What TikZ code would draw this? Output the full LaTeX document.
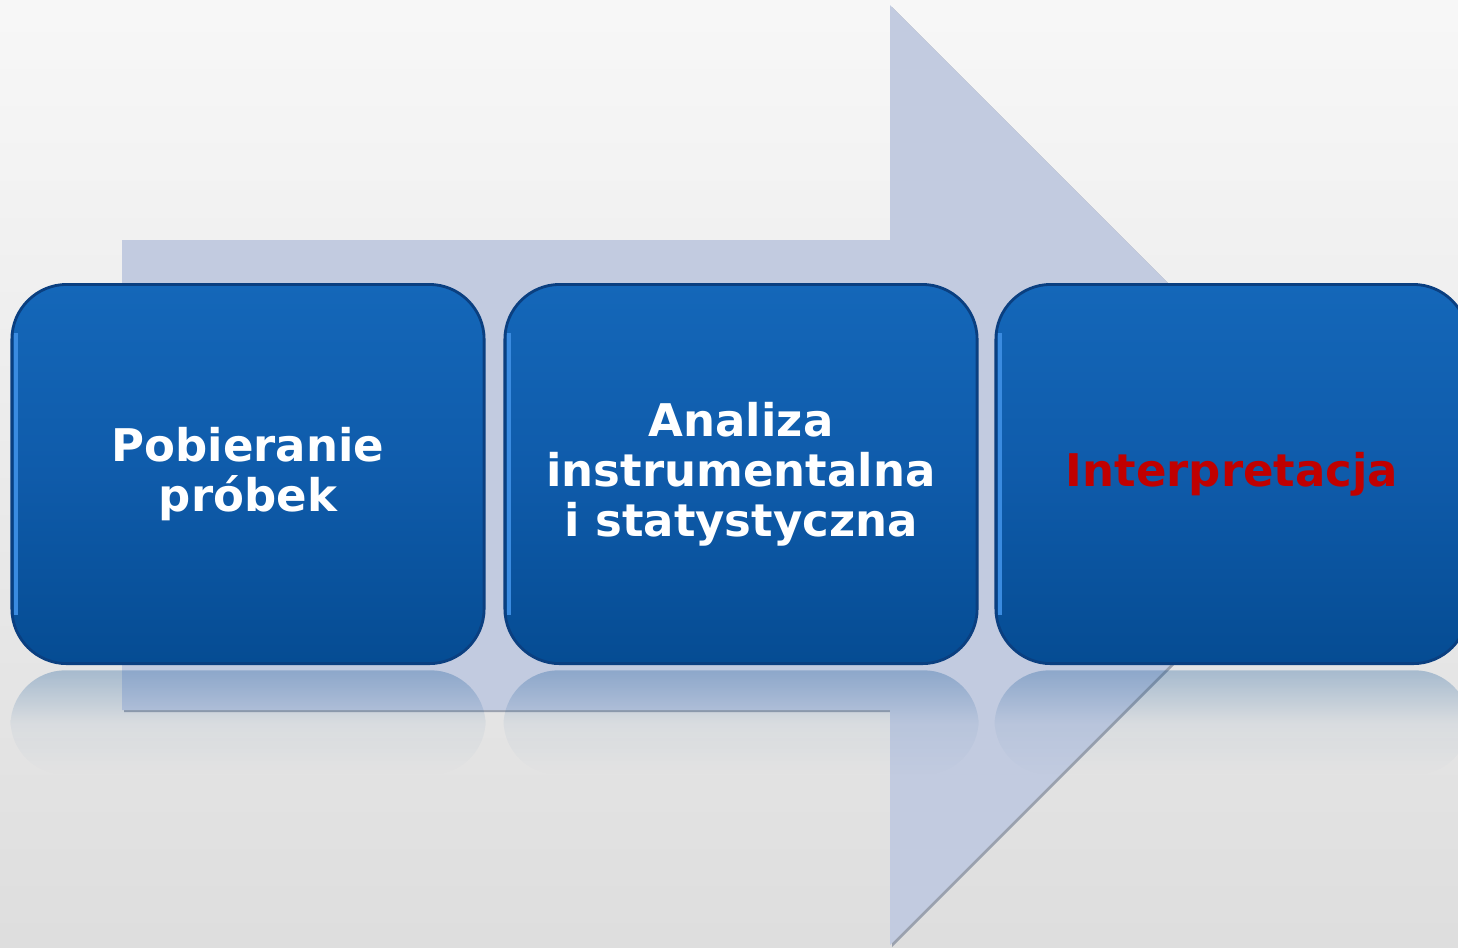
\documentclass[tikz,border=0pt]{standalone}
\usepackage{fontspec}
\setmainfont{DejaVu Sans}
\usetikzlibrary{fadings}

\definecolor{arrowfill}{HTML}{C2CBE0}
\definecolor{arrowshade}{HTML}{9AA1AE}
\definecolor{boxtop}{HTML}{1467B9}
\definecolor{boxmid}{HTML}{0F5BAA}
\definecolor{boxbot}{HTML}{054C93}
\definecolor{boxedge}{HTML}{0A3F80}
\definecolor{boxhi}{HTML}{3A8BE0}
\definecolor{redtext}{HTML}{C00000}

\tikzfading[name=fade down, top color=transparent!72, bottom color=transparent!100,
  middle color=transparent!95]

\tikzset{
  stepbox/.style={draw=boxedge, line width=0.8pt, rounded corners=5.5mm,
    top color=boxtop, bottom color=boxbot, middle color=boxmid,
    minimum width=4.72cm, minimum height=3.79cm, align=center,
    text=white, font=\bfseries\fontsize{12.8}{14.2}\selectfont},
  reflect/.style={fill=boxbot, rounded corners=5.5mm, path fading=fade down}
}

\begin{document}
\begin{tikzpicture}[x=0.01cm, y=-0.01cm]
  \useasboundingbox (0,0) rectangle (1458,947);
  \shade[top color=white!97!black, bottom color=black!13] (0,0) rectangle (1458,947);

  % big arrow behind the steps
  \fill[arrowshade] (124,242) -- (892,242) -- (892,7) -- (1362,477) -- (892,947)
    -- (892,712) -- (124,712) -- cycle;
  \fill[arrowfill] (122,240) -- (890,240) -- (890,5) -- (1360,475) -- (890,945)
    -- (890,710) -- (122,710) -- cycle;

  \node[stepbox] (probki) at (248,474) {Pobieranie\\próbek};
  \node[stepbox] (analiza) at (741,474) {Analiza\\instrumentalna\\i statystyczna};
  \node[stepbox, text=redtext] (interp) at (1232,474) {Interpretacja};

  % left highlights and reflections
  \foreach \b in {probki, analiza, interp} {
    \draw[boxhi, line width=1.2pt] ([xshift=1.6pt, yshift=-5mm]\b.north west)
      -- ([xshift=1.6pt, yshift=5mm]\b.south west);
    \fill[reflect] ([yshift=-1.5pt]\b.south west) rectangle ([yshift=-11mm]\b.south east);
  }
\end{tikzpicture}
\end{document}
